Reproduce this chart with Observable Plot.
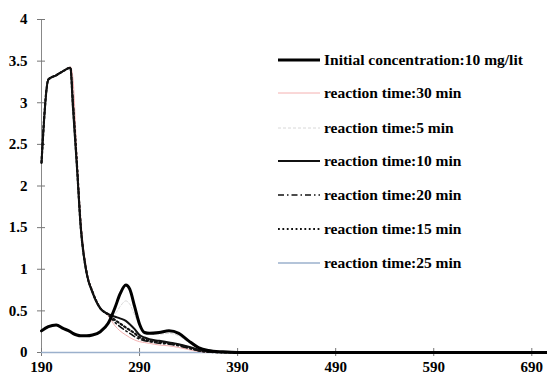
<!DOCTYPE html>
<html>
<head>
<meta charset="utf-8">
<script src="https://cdn.jsdelivr.net/npm/d3@7"></script>
<script src="https://cdn.jsdelivr.net/npm/@observablehq/plot@0.6"></script>
<style>
  html, body { margin: 0; padding: 0; background: #fff; }
  #wrap { position: relative; width: 547px; height: 376px; overflow: hidden; }
  #chart { position: absolute; left: 0; top: 0; }
  #legend { position: absolute; left: 278px; top: 0; font-family: "Liberation Serif", "Times New Roman", serif; font-weight: bold; font-size: 15.5px; color: #000; }
  .item { position: absolute; left: 0; display: flex; align-items: center; white-space: nowrap; height: 20px; }
  .item svg { display: block; margin-right: 4px; }
</style>
</head>
<body>
<div id="wrap">
  <div id="chart"></div>
  <div id="legend"></div>
</div>
<script>
// Wavelength grid (nm)
const wavelength = [190, 197, 205, 212, 219.5, 222, 226, 230, 236, 242, 250, 258, 265, 270, 276, 280, 285, 290, 295, 300, 310, 320, 330, 340, 350, 360, 375, 390, 450, 550, 650, 706];

// Absorbance series
const initialConc = [0.26, 0.31, 0.33, 0.29, 0.25, 0.23, 0.21, 0.20, 0.20, 0.21, 0.25, 0.35, 0.54, 0.70, 0.81, 0.76, 0.55, 0.34, 0.24, 0.23, 0.24, 0.26, 0.23, 0.14, 0.06, 0.025, 0.008, 0, 0, 0, 0, 0];
const time30 = [2.28, 3.28, 3.33, 3.38, 3.43, 3.30, 2.40, 1.62, 1.00, 0.74, 0.54, 0.44, 0.32, 0.26, 0.21, 0.18, 0.15, 0.13, 0.12, 0.11, 0.09, 0.08, 0.06, 0.035, 0.012, 0.003, 0, 0, 0, 0, 0, 0];
const time5 = [2.28, 3.28, 3.33, 3.38, 3.42, 2.95, 2.25, 1.50, 0.95, 0.72, 0.53, 0.47, 0.47, 0.55, 0.62, 0.58, 0.45, 0.32, 0.24, 0.22, 0.22, 0.23, 0.20, 0.12, 0.05, 0.02, 0.005, 0, 0, 0, 0, 0];
const time10 = [2.28, 3.28, 3.33, 3.38, 3.42, 2.95, 2.25, 1.50, 0.95, 0.72, 0.53, 0.46, 0.43, 0.41, 0.38, 0.34, 0.28, 0.21, 0.18, 0.16, 0.14, 0.12, 0.10, 0.07, 0.035, 0.012, 0.003, 0, 0, 0, 0, 0];
const time20 = [2.28, 3.28, 3.33, 3.38, 3.42, 3.05, 2.32, 1.55, 0.97, 0.73, 0.53, 0.45, 0.36, 0.31, 0.26, 0.23, 0.19, 0.16, 0.14, 0.13, 0.11, 0.10, 0.08, 0.05, 0.02, 0.005, 0, 0, 0, 0, 0, 0];
const time15 = [2.28, 3.28, 3.33, 3.38, 3.42, 3.0, 2.28, 1.52, 0.96, 0.73, 0.53, 0.46, 0.39, 0.35, 0.30, 0.27, 0.23, 0.18, 0.155, 0.14, 0.125, 0.11, 0.09, 0.06, 0.025, 0.008, 0.002, 0, 0, 0, 0, 0];
const time25 = [0, 0, 0, 0, 0, 0, 0, 0, 0, 0, 0, 0, 0, 0, 0, 0, 0, 0, 0, 0, 0, 0, 0, 0, 0, 0, 0, 0, 0, 0, 0, 0];

const xTicks = [190, 290, 390, 490, 590, 690];
const yTicks = [0, 0.5, 1, 1.5, 2, 2.5, 3, 3.5, 4];

// Series names, in legend order
const seriesNames = [
  "Initial concentration:10 mg/lit",
  "reaction time:30 min",
  "reaction time:5 min",
  "reaction time:10 min",
  "reaction time:20 min",
  "reaction time:15 min",
  "reaction time:25 min"
];
const seriesValues = [initialConc, time30, time5, time10, time20, time15, time25];

const styles = [
  {stroke: "#000", strokeWidth: 3, dash: null},
  {stroke: "#f4b0b0", strokeWidth: 1, dash: null},
  {stroke: "#d8d8d8", strokeWidth: 1, dash: "3,2"},
  {stroke: "#111", strokeWidth: 2, dash: null},
  {stroke: "#111", strokeWidth: 1.5, dash: "6,3,1.5,3"},
  {stroke: "#111", strokeWidth: 2.2, dash: "1.8,2.6"},
  {stroke: "#9bb0cc", strokeWidth: 1.3, dash: null}
];

const tables = seriesValues.map(vals => wavelength.map((w, i) => ({w, a: vals[i]})));

// draw order: back to front
const drawOrder = [6, 2, 1, 4, 5, 3, 0];

const serif = "'Liberation Serif', 'Times New Roman', serif";

const chart = Plot.plot({
  width: 547,
  height: 376,
  marginLeft: 41,
  marginRight: 0,
  marginTop: 19,
  marginBottom: 24,
  style: {fontFamily: serif, fontSize: "15px", fontWeight: "bold", background: "transparent", color: "#000"},
  x: {domain: [190, 706]},
  y: {domain: [0, 4]},
  marks: [
    Plot.ruleX([190], {y1: 0, y2: 4, stroke: "#888", strokeWidth: 1}),
    Plot.ruleY([0], {stroke: "#888", strokeWidth: 1}),
    Plot.axisY({ticks: yTicks, tickFormat: d => String(d), tickSize: 8, dx: 4, tickPadding: 10, stroke: "#777", fill: "#000", fontWeight: "bold", fontSize: 15, label: null}),
    Plot.axisX({ticks: xTicks, tickFormat: d => String(d), tickSize: 8, dy: -4, tickPadding: 5, stroke: "#777", fill: "#000", fontWeight: "bold", fontSize: 15, label: null}),
    ...drawOrder.map(k => Plot.line(tables[k], {
      x: "w", y: "a", curve: "monotone-x",
      stroke: styles[k].stroke, strokeWidth: styles[k].strokeWidth,
      strokeDasharray: styles[k].dash, strokeLinejoin: "round"
    }))
  ]
});
document.getElementById("chart").appendChild(chart);

// Legend
const legendTops = [60, 93, 128, 161, 195, 229, 263];
const legend = document.getElementById("legend");
seriesNames.forEach((name, k) => {
  const item = document.createElement("div");
  item.className = "item";
  item.style.top = (legendTops[k] - 10) + "px";
  const s = styles[k];
  item.innerHTML = `<svg width="42" height="8"><line x1="0" x2="42" y1="4" y2="4" stroke="${s.stroke}" stroke-width="${s.strokeWidth}" ${s.dash ? `stroke-dasharray="${s.dash}"` : ""}/></svg><span>${name}</span>`;
  legend.appendChild(item);
});
</script>
</body>
</html>
